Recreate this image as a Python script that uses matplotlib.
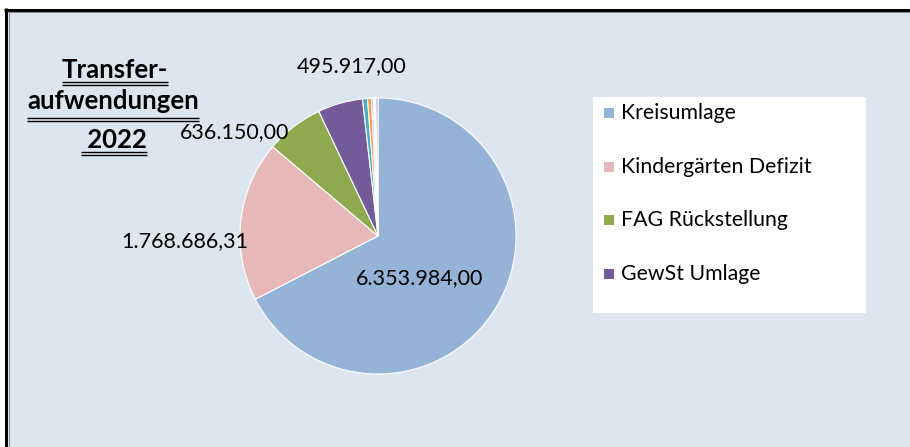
import matplotlib
matplotlib.use("Agg")
import matplotlib.pyplot as plt
from matplotlib.patches import Rectangle
from matplotlib.lines import Line2D

plt.rcParams['font.family'] = ['Lato', 'DejaVu Sans']

categories = ["Kreisumlage", "Kindergärten Defizit", "FAG Rückstellung", "GewSt Umlage",
              "Sonstige 1", "Sonstige 2", "Sonstige 3", "Sonstige 4", "Sonstige 5", "Sonstige 6"]
values = [6353984.00, 1768686.31, 636150.00, 495917.00,
          55000, 42000, 22000, 14000, 12000, 24000]
label_texts = ["6.353.984,00", "1.768.686,31", "636.150,00", "495.917,00"]
colors = ["#95B3D7", "#E6B9B8", "#8DAA4E", "#745A98",
          "#4BACC6", "#F79646", "#A3BEDE", "#E8C4C3", "#C3D69B", "#B3A2C7"]
title_lines = ["Transfer-", "aufwendungen", " 2022"]

W, H = 910, 447
fig = plt.figure(figsize=(W / 100, H / 100), dpi=100)
fig.patch.set_facecolor("white")

def px(x, y):
    return x / W, 1 - y / H

# background + border
bg = Rectangle(px(7, H), (W - 7) / W, (H - 11) / H, transform=fig.transFigure,
               facecolor="#DCE6F1", edgecolor="none", zorder=-5)
fig.patches.append(bg)
fig.add_artist(Line2D([5.5 / W, 5.5 / W], [0, 1 - 8 / H], transform=fig.transFigure,
                      color="black", lw=3 * 0.72, solid_capstyle="butt"))
fig.add_artist(Line2D([4 / W, 1], [1 - 9.5 / H, 1 - 9.5 / H], transform=fig.transFigure,
                      color="black", lw=3 * 0.72, solid_capstyle="butt"))
fig.add_artist(Line2D([8 / W, 1], [1 - 11.5 / H, 1 - 11.5 / H], transform=fig.transFigure,
                      color="#8a8a8a", lw=0.7, solid_capstyle="butt"))
fig.add_artist(Line2D([8.5 / W, 8.5 / W], [0, 1 - 11 / H], transform=fig.transFigure,
                      color="#8a8a8a", lw=0.7, solid_capstyle="butt"))

# pie
cx, cy, r = 378, 236, 138
ax = fig.add_axes([(cx - r) / W, 1 - (cy + r) / H, 2 * r / W, 2 * r / H])
ax.set_zorder(2)
ax.set_facecolor("none")
wedges, _ = ax.pie(values, colors=colors, startangle=90, counterclock=False,
                   wedgeprops=dict(edgecolor="white", linewidth=0.8))
ax.set_aspect("equal")
ax.set_xlim(-1, 1)
ax.set_ylim(-1, 1)
ax.axis("off")

# data labels (positions in pixels)
label_pos = [(420, 278), (185, 241), (235, 132), (352, 66)]
for t, (x, y) in zip(label_texts, label_pos):
    fig.text(*px(x, y), t, ha="center", va="center", fontsize=15.5, color="black",
             zorder=5)

# legend
lx0, ly0, lx1, ly1 = 593, 97, 866, 313
fig.patches.append(Rectangle(px(lx0, ly1), (lx1 - lx0) / W, (ly1 - ly0) / H,
                             transform=fig.transFigure, facecolor="white",
                             edgecolor="none", zorder=1))
leg_y = [113, 167, 220, 274]
for i, y in enumerate(leg_y):
    fig.patches.append(Rectangle(px(604, y + 5), 10 / W, 10 / H, transform=fig.transFigure,
                                 facecolor=colors[i], edgecolor="none", zorder=2))
    fig.text(*px(621, y), categories[i], ha="left", va="center", fontsize=15.3,
             color="black", zorder=3)

# title with double underline
title_x = [115, 113, 114]
title_base = [78, 109, 148]
underlines = [(82, 84.5), (118, 121), (152, 154.5)]
fig.canvas.draw()
renderer = fig.canvas.get_renderer()
for t, x, yb, uls in zip(title_lines, title_x, title_base, underlines):
    txt = fig.text(*px(x, yb), t, ha="center", va="baseline", fontsize=18.5,
                   fontweight="bold", color="black")
    bb = txt.get_window_extent(renderer)
    for u in uls:
        yy = 1 - u / H
        fig.add_artist(Line2D([bb.x0 / W, bb.x1 / W], [yy, yy], transform=fig.transFigure,
                              color="black", lw=1.0, solid_capstyle="butt"))

fig.savefig("out.png", dpi=100)
